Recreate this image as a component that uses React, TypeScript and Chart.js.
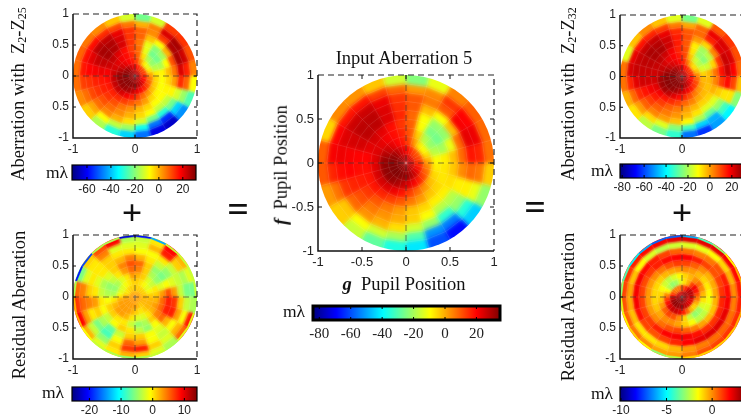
import React, { useEffect, useRef } from "react";
import { Chart, registerables } from "chart.js";

Chart.register(...registerables);

const SERIF = '"Liberation Serif", serif';
const SANS = '"Liberation Sans", sans-serif';

const ringEdges = [0, 0.1, 0.2, 0.3, 0.4, 0.5, 0.6, 0.7, 0.8, 0.9, 1];
const ringEdgesRim = [0, 0.1, 0.2, 0.3, 0.4, 0.5, 0.6, 0.7, 0.8, 0.9, 0.975, 1];

// rows: one ring each, inner to outer; columns: 24 sectors, counter-clockwise from +x (mλ)
const aberrationZ25 = [
  [25,24,24,24,24,25,26,27,28,29,29,29,29,29,29,29,29,28,27,27,26,26,26,25],
  [14,12,11,12,14,17,20,23,26,28,29,30,30,30,30,30,30,29,28,26,24,21,18,15],
  [1,-6,-10,-7,2,11,15,18,20,22,25,28,29,29,29,28,27,24,21,18,15,11,8,5],
  [-6,-15,-19,-16,-5,8,14,17,19,21,22,23,24,24,24,22,19,16,12,7,3,-1,-3,-4],
  [-7,-16,-22,-22,-10,7,12,17,21,24,23,19,17,16,15,14,12,9,6,2,-4,-7,-8,-8],
  [-1,-8,-17,-20,-10,6,13,22,26,27,24,20,16,15,13,10,6,3,-1,-4,-8,-8,-7,-4],
  [6,10,0,-8,-2,8,13,22,26,27,24,19,15,13,10,7,4,0,-4,-8,-14,-14,-7,2],
  [22,27,26,12,4,8,13,20,24,25,21,18,13,11,7,4,0,-5,-12,-22,-30,-22,-12,14],
  [15,23,27,22,5,0,6,11,14,17,17,16,12,7,1,-8,-14,-18,-32,-48,-55,-38,-18,8],
  [5,10,13,12,-12,-22,-12,-2,4,6,8,7,7,4,-3,-16,-30,-38,-48,-62,-65,-45,-26,-8],
];

const residualZ25 = [
  [3,3,3,3,3,2,2,3,3,3,3,3,3,3,3,3,3,3,3,3,3,3,3,3],
  [2,1,1,1,1,1,1,1,1,0,0,2,3,3,3,3,3,3,3,2,1,2,2,2],
  [1,-1,-2,-1,0,1,1,0,-1,-2,-2,-1,2,3,3,3,3,2,1,0,1,2,2,2],
  [1,0,-3,-2,1,2,3,0,-2,-4,-5,-4,0,2,3,3,2,0,-2,-2,0,2,3,2],
  [3,-2,-5,-4,1,4,5,3,0,-3,-5,-4,-1,1,1,0,0,-3,-5,-4,1,4,5,5],
  [6,-1,-6,-5,1,5,6,4,1,-2,-4,-3,0,-1,-3,-1,1,0,-3,-5,-1,5,8,8],
  [3,-2,-5,-3,0,2,4,2,1,0,-2,0,3,1,-4,-7,-3,1,1,-1,-2,2,8,7],
  [-3,-3,-3,0,-1,-1,0,0,1,0,0,1,4,0,-6,-8,-1,5,3,-1,-3,-1,3,1],
  [-6,-4,1,8,2,-2,-2,-2,4,0,-2,4,5,3,-3,-5,1,7,8,1,-2,2,-1,-3],
  [-6,-2,2,9,0,-3,-4,9,6,1,-6,5,7,9,2,-2,0,2,1,-2,-4,5,8,-4],
  [-3,-3,-3,-3,-14,-20,-22,-4,-4,-18,-20,-4,2,2,-1,-3,-4,-5,-4,-3,-4,-2,-2,-4],
];

const inputAberration = [
  [26,25,24,24,25,26,27,28,30,31,32,33,33,33,33,33,32,31,30,29,28,28,27,27],
  [14,12,11,12,15,19,22,25,28,31,33,34,34,35,35,35,34,33,32,30,27,23,19,16],
  [0,-6,-10,-8,2,12,17,20,23,26,29,32,33,33,33,32,30,27,24,21,17,12,8,4],
  [-10,-18,-22,-18,-4,10,16,19,21,23,24,24,24,25,25,24,22,18,13,8,3,-2,-5,-8],
  [-8,-20,-26,-25,-10,9,14,19,23,25,23,20,19,18,18,16,13,10,6,2,-3,-5,-7,-7],
  [-2,-12,-22,-22,-10,8,16,24,28,28,25,20,19,17,14,10,6,2,-3,-5,-8,-8,-6,-3],
  [8,8,-2,-10,-2,10,15,24,28,28,25,21,20,16,11,6,3,0,-4,-10,-18,-18,-8,4],
  [18,23,21,10,6,10,14,22,26,26,24,22,19,14,8,3,-1,-6,-15,-22,-34,-22,-8,8],
  [16,22,20,14,4,2,8,13,18,18,20,21,16,7,-3,-10,-15,-20,-30,-52,-55,-35,-12,6],
  [7,8,9,5,-12,-24,-15,-3,3,4,-5,9,10,2,-4,-16,-28,-36,-42,-60,-68,-45,-22,-4],
];

const aberrationZ32 = [
  [26,25,25,25,26,27,27,28,29,30,30,30,31,31,31,31,30,30,29,28,28,27,27,26],
  [15,13,12,13,16,19,22,25,27,29,30,31,31,31,31,31,31,30,29,27,24,21,18,16],
  [2,-4,-8,-5,4,13,17,20,22,24,27,30,31,31,31,30,28,25,22,19,16,12,10,6],
  [-6,-15,-19,-16,-4,10,15,18,20,22,24,25,28,29,28,25,21,17,13,9,4,1,-1,-3],
  [-3,-16,-24,-22,-8,9,14,19,23,25,24,23,23,21,19,16,13,10,6,3,-1,-3,-4,-3],
  [5,-6,-18,-21,-9,8,15,23,27,27,25,24,23,19,15,11,7,4,0,-3,-6,-6,-2,3],
  [16,12,3,-6,0,9,15,23,26,27,25,24,23,16,11,7,4,1,-3,-8,-14,-14,-5,11],
  [24,24,21,14,6,8,13,20,24,24,24,24,21,13,7,3,0,-4,-10,-20,-28,-22,-8,17],
  [18,22,22,20,6,-1,4,11,14,16,20,22,14,6,0,-7,-14,-24,-32,-44,-48,-32,-8,10],
  [6,9,12,8,-14,-26,-14,-4,2,-4,-14,5,5,-2,-8,-18,-26,-34,-55,-62,-50,-40,-24,-4],
];

const residualZ32 = [
  [3,3,3.3,3.4,3.2,2.8,2.6,2.5,2.5,2.6,2.8,3,3.2,3.4,3.4,3.5,3.5,3.5,3.5,3.4,3.3,3.2,3.1,3],
  [2.7,2.9,2.9,2.4,1.5,1,0.6,0.3,0.2,0.3,0.8,1.6,2.6,3.2,3.4,3.4,3.3,3.2,3,2.8,2.5,2.3,2.3,2.5],
  [0.8,1.6,2,1,-0.5,-1.2,-2,-2.8,-3,-2.6,-1.5,0,1,1.7,2.3,2.6,2.6,2.3,1.5,0.5,-0.6,-1,-0.5,0.3],
  [-0.6,0,0.4,0,-0.6,-1,-1.5,-2,-2.4,-2.2,-1.6,-1,-0.8,-0.2,0.6,1,0.8,0,-1,-2.3,-3,-2.8,-2,-1.2],
  [-1.5,-1.3,-1,-0.6,-0.2,0,-0.2,-0.4,-0.6,-0.9,-1,-1,-1,-0.8,-0.4,0,0,-0.3,-0.9,-1.6,-2.4,-2.4,-2,-1.7],
  [-0.3,-0.4,-0.5,0,0.6,1,1.1,0.8,0.3,0,-0.2,-0.2,-0.2,-0.2,0,0.4,0.8,1,0.6,0.2,-0.3,-0.6,-0.7,-0.5],
  [1.2,1,0.8,1,1.5,1.9,1.9,1.8,1.5,1.1,0.9,1,1,1,1.1,1.5,1.9,2,2,1.7,1.3,1.2,1.4,1.4],
  [1.8,1.5,0.8,0.3,0.2,0.4,0.6,1,1.5,1.8,2,2,2,1.7,1,0.8,1,1.4,1.9,2.2,2.3,2.3,2.2,2],
  [0,-0.5,-1,-1.5,-1.8,-2,-2.2,-2.4,-2,-1.5,-0.7,-0.3,-0.4,-0.7,-1.2,-1.2,-1,-0.6,-0.2,0.2,0.4,0.5,0.4,0.2],
  [1.6,1.8,2,2.2,2.2,2.3,2.2,2,1.8,1.5,1.2,1,0.8,0.6,0.3,0,-0.3,-0.2,0.2,0.8,1,1.2,1.3,1.5],
  [0,-0.5,-1.5,-3,-4,-6,-7,-7,-6,-5,-4,-3,-2,-1.5,-1,-1.5,-3,-2.5,-1,-1,-1,-1,-0.5,-0.2],
];

const ticksFine = [-1, -0.5, 0, 0.5, 1];
const xLabelsCoarse = ["-1", "", "0", "", "1"];
const yLabelsPanel = ["-1", "0.5", "0", "0.5", "1"];
const labelsCenter = ["-1", "-0.5", "0", "0.5", "1"];

const barTicksZ25 = [-60, -40, -20, 0, 20];
const barTicksResZ25 = [-20, -10, 0, 10];
const barTicksInput = [-80, -60, -40, -20, 0, 20];
const barTicksZ32 = [-80, -60, -40, -20, 0, 20];
const barTicksResZ32 = [-10, -5, 0];

const jet = (t: number) => {
  const c = (v: number) => Math.round(255 * Math.max(0, Math.min(1, v)));
  return `rgb(${c(1.5 - Math.abs(4 * t - 3))},${c(1.5 - Math.abs(4 * t - 2))},${c(1.5 - Math.abs(4 * t - 1))})`;
};

type Box = { l: number; t: number; w: number; h: number };

const discPlugin = {
  id: "disc",
  beforeDatasetsDraw(chart: any) {
    const { ctx, scales } = chart;
    const d = chart.data.datasets[0];
    const { vmin, vmax, soften } = d;
    const paint = (c: any, cell: any, stroke: string | null) => {
      c.beginPath();
      cell.poly.forEach((p: number[], i: number) => {
        const px = scales.x.getPixelForValue(p[0]);
        const py = scales.y.getPixelForValue(p[1]);
        if (i === 0) c.moveTo(px, py);
        else c.lineTo(px, py);
      });
      c.closePath();
      const col = jet((cell.v - vmin) / (vmax - vmin));
      if (stroke) {
        c.strokeStyle = stroke;
        c.stroke();
      } else {
        c.fillStyle = col;
        c.strokeStyle = col;
        c.fill();
        c.stroke();
      }
    };
    const off = document.createElement("canvas");
    off.width = chart.width;
    off.height = chart.height;
    const octx = off.getContext("2d") as CanvasRenderingContext2D;
    octx.lineWidth = 0.5;
    d.data.filter((c: any) => !c.rim).forEach((c: any) => paint(octx, c, null));

    const cx = scales.x.getPixelForValue(0);
    const cy = scales.y.getPixelForValue(0);
    const rx = scales.x.getPixelForValue(1) - cx;
    const ry = cy - scales.y.getPixelForValue(1);
    ctx.save();
    ctx.beginPath();
    ctx.ellipse(cx, cy, rx, ry, 0, 0, Math.PI * 2);
    ctx.clip();
    ctx.filter = `blur(${soften}px)`;
    ctx.drawImage(off, 0, 0);
    ctx.filter = "none";
    ctx.lineWidth = 0.5;
    d.data.filter((c: any) => c.rim).forEach((c: any) => paint(ctx, c, null));
    d.data.filter((c: any) => !c.rim).forEach((c: any) => paint(ctx, c, "rgba(255,255,255,0.1)"));
    ctx.restore();
  },
  afterDatasetsDraw(chart: any) {
    const { ctx, chartArea: a, scales } = chart;
    ctx.save();
    ctx.strokeStyle = "rgba(40,40,40,0.6)";
    ctx.lineWidth = 1;
    ctx.setLineDash([6, 4]);
    const x0 = scales.x.getPixelForValue(0);
    const y0 = scales.y.getPixelForValue(0);
    ctx.beginPath();
    ctx.moveTo(a.left, y0);
    ctx.lineTo(a.right, y0);
    ctx.moveTo(x0, a.top);
    ctx.lineTo(x0, a.bottom);
    ctx.stroke();
    ctx.strokeStyle = "#222";
    ctx.lineWidth = 1.2;
    ctx.beginPath();
    ctx.moveTo(a.left, a.top);
    ctx.lineTo(a.right, a.top);
    ctx.lineTo(a.right, a.bottom);
    ctx.stroke();
    ctx.setLineDash([]);
    ctx.strokeStyle = "#111";
    ctx.lineWidth = 1.5;
    ctx.beginPath();
    ctx.moveTo(a.left, a.top);
    ctx.lineTo(a.left, a.bottom);
    ctx.lineTo(a.right, a.bottom);
    ctx.stroke();
    ctx.lineWidth = 1;
    ctx.beginPath();
    for (const t of ticksFine) {
      if (Math.abs(t) === 1) continue;
      const px = scales.x.getPixelForValue(t);
      const py = scales.y.getPixelForValue(t);
      const len = chart.options.tickLen;
      if (t === 0 || chart.options.fineX) {
        ctx.moveTo(px, a.bottom);
        ctx.lineTo(px, a.bottom - len);
        ctx.moveTo(px, a.top);
        ctx.lineTo(px, a.top + len);
      }
      ctx.moveTo(a.left, py);
      ctx.lineTo(a.left + len, py);
      ctx.moveTo(a.right, py);
      ctx.lineTo(a.right - len, py);
    }
    ctx.stroke();
    ctx.restore();
  },
};

const barPlugin = {
  id: "colorbar",
  beforeDatasetsDraw(chart: any) {
    const { ctx, chartArea: a, scales } = chart;
    const d = chart.data.datasets[0];
    const x0 = scales.x.getPixelForValue(d.vmin);
    const x1 = scales.x.getPixelForValue(d.vmax);
    const g = ctx.createLinearGradient(x0, 0, x1, 0);
    for (let i = 0; i <= 64; i++) g.addColorStop(i / 64, jet(i / 64));
    ctx.save();
    ctx.fillStyle = g;
    ctx.fillRect(a.left, a.top, a.right - a.left, a.bottom - a.top);
    ctx.strokeStyle = "#000";
    ctx.lineWidth = d.frame;
    ctx.strokeRect(a.left, a.top, a.right - a.left, a.bottom - a.top);
    ctx.lineWidth = 1;
    ctx.beginPath();
    for (const t of d.marks) {
      const px = scales.x.getPixelForValue(t);
      ctx.moveTo(px, a.bottom);
      ctx.lineTo(px, a.bottom - 3);
      ctx.moveTo(px, a.top);
      ctx.lineTo(px, a.top + 3);
    }
    ctx.stroke();
    ctx.restore();
  },
};

// One polar cell for each value. The thin rim ring (if any) stays sharp;
// the outermost soft ring runs past the disc so the softening has no white edge, and the disc is clipped.
function buildCells(table: number[][], edges: number[]) {
  const cells: any[] = [];
  const hasRim = edges[edges.length - 1] - edges[edges.length - 2] < 0.05;
  table.forEach((row, ri) => {
    const rim = hasRim && ri === table.length - 1;
    const outer = ri === table.length - (hasRim ? 2 : 1);
    const ra = edges[ri];
    const rb = outer ? 1.2 : edges[ri + 1];
    row.forEach((v, si) => {
      const aa = (si * Math.PI) / 12;
      const ab = ((si + 1) * Math.PI) / 12;
      const poly = [
        [ra * Math.cos(aa), ra * Math.sin(aa)],
        [rb * Math.cos(aa), rb * Math.sin(aa)],
        [rb * Math.cos(ab), rb * Math.sin(ab)],
        [ra * Math.cos(ab), ra * Math.sin(ab)],
      ];
      const m = (ra + rb) / 2;
      const c = (aa + ab) / 2;
      cells.push({ x: m * Math.cos(c), y: m * Math.sin(c), v, poly, rim });
    });
  });
  return cells;
}

function Disc(props: {
  box: Box; table: number[][]; edges: number[]; vmin: number; vmax: number; soften: number;
  xLabels: string[]; yLabels: string[]; fineX: boolean; size: number; pad: number; tickLen: number;
}) {
  const ref = useRef<HTMLCanvasElement>(null);
  const { box, table, edges, vmin, vmax, soften, xLabels, yLabels, fineX, size, pad, tickLen } = props;
  const L = 44, T = 12, R = 14, B = 24;
  useEffect(() => {
    const fixTicks = (s: any) => { s.ticks = ticksFine.map((value) => ({ value })); };
    const chart = new Chart(ref.current as HTMLCanvasElement, {
      type: "scatter",
      data: { datasets: [{ data: buildCells(table, edges), pointRadius: 0, vmin, vmax, soften } as any] },
      plugins: [discPlugin as any],
      options: {
        animation: false, responsive: false, fineX, tickLen,
        layout: { padding: { top: T, right: R, left: 0, bottom: 0 } },
        plugins: { legend: { display: false }, tooltip: { enabled: false } },
        scales: {
          x: {
            type: "linear", min: -1, max: 1, afterBuildTicks: fixTicks,
            afterFit: (s: any) => { s.height = B; },
            grid: { display: false, drawTicks: false }, border: { display: false },
            ticks: {
              autoSkip: false, maxRotation: 0, padding: pad, color: "#222",
              font: { family: SANS, size },
              callback: (_: any, i: number) => xLabels[i],
            },
          },
          y: {
            type: "linear", min: -1, max: 1, afterBuildTicks: fixTicks,
            afterFit: (s: any) => { s.width = L; },
            grid: { display: false, drawTicks: false }, border: { display: false },
            ticks: {
              autoSkip: false, padding: pad, color: "#222",
              font: { family: SANS, size },
              callback: (_: any, i: number) => yLabels[i],
            },
          },
        },
      } as any,
    });
    return () => chart.destroy();
  }, []);
  return (
    <canvas ref={ref} width={box.w + L + R} height={box.h + T + B}
      style={{ position: "absolute", left: box.l - L, top: box.t - T, display: "block" }} />
  );
}

function ColorBar(props: {
  box: Box; vmin: number; vmax: number; marks: number[]; family: string; size: number; pad: number; frame: number;
}) {
  const ref = useRef<HTMLCanvasElement>(null);
  const { box, vmin, vmax, marks, family, size, pad, frame } = props;
  const S = 16, B = 24;
  useEffect(() => {
    const chart = new Chart(ref.current as HTMLCanvasElement, {
      type: "scatter",
      data: { datasets: [{ data: [], vmin, vmax, marks, frame } as any] },
      plugins: [barPlugin as any],
      options: {
        animation: false, responsive: false,
        layout: { padding: { top: 3, left: S, right: S, bottom: 0 } },
        plugins: { legend: { display: false }, tooltip: { enabled: false } },
        scales: {
          y: { display: false, min: 0, max: 1 },
          x: {
            type: "linear", min: vmin, max: vmax,
            afterBuildTicks: (s: any) => { s.ticks = marks.map((value) => ({ value })); },
            afterFit: (s: any) => { s.height = B; },
            grid: { display: false, drawTicks: false }, border: { display: false },
            ticks: {
              autoSkip: false, maxRotation: 0, padding: pad, color: "#222",
              font: { family, size },
              callback: (v: any) => String(v),
            },
          },
        },
      } as any,
    });
    return () => chart.destroy();
  }, []);
  return (
    <canvas ref={ref} width={box.w + 2 * S} height={box.h + 3 + B}
      style={{ position: "absolute", left: box.l - S, top: box.t - 3, display: "block" }} />
  );
}

const Txt = (p: { x: number; y: number; size: number; rot?: boolean; bold?: boolean; children: React.ReactNode }) => (
  <div style={{
    position: "absolute", left: p.x, top: p.y, fontFamily: SERIF, fontSize: p.size, color: "#111",
    fontWeight: p.bold ? 700 : 400, whiteSpace: "pre", lineHeight: 1,
    transform: `translate(-50%,-50%)${p.rot ? " rotate(-90deg)" : ""}`,
  }}>{p.children}</div>
);

const sub = (s: string) => <sub style={{ fontSize: "0.65em", lineHeight: 0, verticalAlign: "-0.22em" }}>{s}</sub>;
const it = (s: string) => <i>{s}</i>;

export default function App() {
  return (
    <div style={{ position: "absolute", left: 0, top: 0, width: 741, height: 420, overflow: "hidden", background: "#fff" }}>
      <Disc box={{ l: 73, t: 14, w: 124, h: 124 }} table={aberrationZ25} edges={ringEdges} vmin={-72.5} vmax={31} soften={1.6}
        xLabels={xLabelsCoarse} yLabels={yLabelsPanel} fineX={false} size={12} pad={4} tickLen={3} />
      <Disc box={{ l: 73, t: 235, w: 124, h: 124 }} table={residualZ25} edges={ringEdgesRim} vmin={-25.5} vmax={14} soften={1.8}
        xLabels={xLabelsCoarse} yLabels={yLabelsPanel} fineX={false} size={12} pad={4} tickLen={3} />
      <Disc box={{ l: 318, t: 75, w: 176, h: 176 }} table={inputAberration} edges={ringEdges} vmin={-84} vmax={35} soften={2.2}
        xLabels={labelsCenter} yLabels={labelsCenter} fineX={true} size={13} pad={4} tickLen={4} />
      <Disc box={{ l: 620, t: 15, w: 124, h: 123 }} table={aberrationZ32} edges={ringEdges} vmin={-82} vmax={32} soften={1.6}
        xLabels={xLabelsCoarse} yLabels={yLabelsPanel} fineX={false} size={12} pad={4} tickLen={3} />
      <Disc box={{ l: 620, t: 235, w: 124, h: 124 }} table={residualZ32} edges={ringEdgesRim} vmin={-10.1} vmax={3.6} soften={1.2}
        xLabels={xLabelsCoarse} yLabels={yLabelsPanel} fineX={false} size={12} pad={4} tickLen={3} />

      <ColorBar box={{ l: 72, t: 165, w: 124, h: 15 }} vmin={-72.5} vmax={31} marks={barTicksZ25} family={SANS} size={12} pad={2} frame={1.2} />
      <ColorBar box={{ l: 72, t: 387, w: 125, h: 14 }} vmin={-25.5} vmax={14} marks={barTicksResZ25} family={SANS} size={12} pad={2} frame={1.2} />
      <ColorBar box={{ l: 313, t: 306, w: 187, h: 14 }} vmin={-84} vmax={35} marks={barTicksInput} family={SERIF} size={15} pad={5} frame={3} />
      <ColorBar box={{ l: 620, t: 164, w: 125, h: 14 }} vmin={-82} vmax={32} marks={barTicksZ32} family={SANS} size={12} pad={2} frame={1.2} />
      <ColorBar box={{ l: 620, t: 387, w: 125, h: 14 }} vmin={-10.1} vmax={3.6} marks={barTicksResZ32} family={SANS} size={12} pad={2} frame={1.2} />

      <Txt x={18} y={94} size={18.5} rot>{"Aberration with  Z"}{sub("2")}{"-Z"}{sub("25")}</Txt>
      <Txt x={19} y={305} size={18.5} rot>Residual Aberration</Txt>
      <Txt x={568} y={94} size={18.5} rot>{"Aberration with  Z"}{sub("2")}{"-Z"}{sub("32")}</Txt>
      <Txt x={568} y={307} size={18.5} rot>Residual Aberration</Txt>
      <Txt x={404} y={58} size={18.5}>Input Aberration 5</Txt>
      <Txt x={281} y={165} size={18.5} rot><b>{it("f")}</b>{"  Pupil Position"}</Txt>
      <Txt x={404} y={284} size={18.5}><b>{it("g")}</b>{"  Pupil Position"}</Txt>
      <Txt x={57} y={173} size={17.5}>mλ</Txt>
      <Txt x={53} y={393} size={17.5}>mλ</Txt>
      <Txt x={294} y={312} size={17.5}>mλ</Txt>
      <Txt x={602} y={171} size={17.5}>mλ</Txt>
      <Txt x={602} y={394} size={17.5}>mλ</Txt>
      <Txt x={132} y={213} size={36} bold>+</Txt>
      <Txt x={682} y={213} size={36} bold>+</Txt>
      <Txt x={238} y={209} size={38} bold>=</Txt>
      <Txt x={535} y={207} size={38} bold>=</Txt>
    </div>
  );
}
